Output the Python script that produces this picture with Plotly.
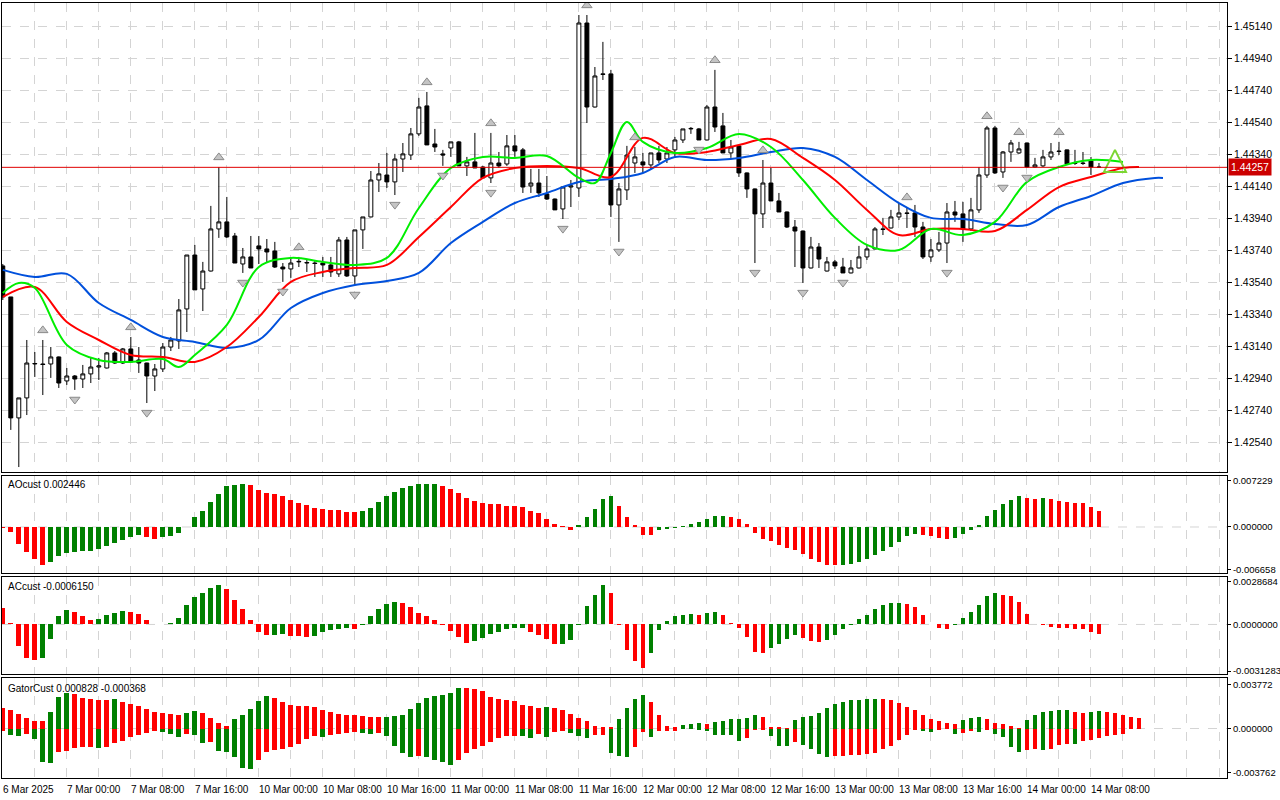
import plotly.graph_objects as go

# ---------------- data ----------------
TICK_LABELS = ["6 Mar 2025", "7 Mar 00:00", "7 Mar 08:00", "7 Mar 16:00", "10 Mar 00:00", "10 Mar 08:00",
               "10 Mar 16:00", "11 Mar 00:00", "11 Mar 08:00", "11 Mar 16:00", "12 Mar 00:00", "12 Mar 08:00",
               "12 Mar 16:00", "13 Mar 00:00", "13 Mar 08:00", "13 Mar 16:00", "14 Mar 00:00", "14 Mar 08:00"]

OPEN = [1.43641,1.43447,1.42691,1.42816,1.43028,1.43028,1.43028,1.43072,1.42922,1.42953,
        1.42934,1.42966,1.43009,1.43003,1.43097,1.43034,1.43122,1.43053,1.43034,1.42953,
        1.42997,1.43134,1.43172,1.43372,1.43709,1.43497,1.43609,1.43872,1.43916,1.43828,
        1.43653,1.43697,1.43766,1.43747,1.43734,1.43634,1.43622,1.43666,1.43659,1.43659,
        1.43659,1.43647,1.43591,1.43803,1.43578,1.43866,1.43947,1.44178,1.44209,1.44166,
        1.44309,1.44334,1.44466,1.44641,1.44403,1.44341,1.44378,1.44416,1.44266,1.44291,
        1.44259,1.44191,1.44284,1.44278,1.44391,1.44366,1.44141,1.44159,1.44091,1.44059,
        1.43997,1.44134,1.44128,1.45159,1.44634,1.44841,1.44841,1.44022,1.44116,1.44284,
        1.44291,1.44272,1.44347,1.44309,1.44366,1.44428,1.44497,1.44497,1.44428,1.44634,
        1.44516,1.44347,1.44391,1.44222,1.44122,1.43966,1.44159,1.44047,1.43978,1.43884,
        1.43859,1.43628,1.43759,1.43609,1.43666,1.43634,1.43597,1.43628,1.43697,1.43747,
        1.43872,1.43878,1.43947,1.43972,1.43972,1.43884,1.43697,1.43741,1.43784,1.43978,
        1.43966,1.43872,1.43991,1.44209,1.44503,1.44228,1.44353,1.44347,1.44409,1.44259,
        1.44266,1.44322,1.44359,1.44366,1.44284,1.44284,1.44297,1.44259]
HIGH = [1.43653,1.43447,1.42816,1.43178,1.43103,1.43178,1.43134,1.43075,1.43003,1.42959,
        1.43022,1.43066,1.43066,1.43103,1.43109,1.43128,1.43197,1.43134,1.43036,1.43028,
        1.43159,1.43197,1.43434,1.43709,1.43772,1.43666,1.44016,1.44259,1.44072,1.43847,
        1.43753,1.43828,1.43828,1.43809,1.43791,1.43659,1.43691,1.43697,1.43684,1.43678,
        1.43697,1.43697,1.43822,1.43822,1.43866,1.43947,1.44234,1.44284,1.44347,1.44341,
        1.44409,1.44503,1.44691,1.44728,1.44497,1.44366,1.44416,1.44422,1.44322,1.44472,
        1.44266,1.44472,1.44353,1.44459,1.44459,1.44378,1.44247,1.44247,1.44203,1.44062,
        1.44134,1.44178,1.45209,1.45209,1.44884,1.45041,1.44866,1.44159,1.44391,1.44384,
        1.44347,1.44347,1.44391,1.44384,1.44447,1.44497,1.44509,1.44503,1.44647,1.44866,
        1.44597,1.44428,1.44394,1.44225,1.44125,1.44303,1.44253,1.44097,1.43981,1.43928,
        1.43862,1.43822,1.43784,1.43697,1.43678,1.43691,1.43678,1.43766,1.43772,1.43884,
        1.43941,1.43991,1.44034,1.44009,1.44022,1.43916,1.43809,1.43853,1.44034,1.44047,
        1.44041,1.44066,1.44259,1.44516,1.44516,1.44359,1.44428,1.44416,1.44412,1.44316,
        1.44366,1.44409,1.44416,1.44369,1.44366,1.44353,1.44322,1.44284]
LOW = [1.43428,1.42616,1.42384,1.42709,1.42947,1.42834,1.42941,1.42878,1.42897,1.42866,
       1.42878,1.42909,1.42928,1.43000,1.43028,1.43028,1.43041,1.42972,1.42784,1.42859,
       1.42978,1.43109,1.43122,1.43228,1.43491,1.43359,1.43606,1.43816,1.43816,1.43659,
       1.43597,1.43628,1.43653,1.43659,1.43628,1.43541,1.43566,1.43634,1.43603,1.43572,
       1.43572,1.43572,1.43572,1.43572,1.43522,1.43747,1.43944,1.44103,1.44128,1.44084,
       1.44228,1.44303,1.44453,1.44397,1.44353,1.44266,1.44322,1.44266,1.44203,1.44253,
       1.44191,1.44159,1.44253,1.44266,1.44322,1.44097,1.44097,1.44072,1.44053,1.43991,
       1.43934,1.44009,1.44072,1.44534,1.44631,1.44803,1.43947,1.43791,1.44053,1.44222,
       1.44222,1.44241,1.44284,1.44284,1.44316,1.44409,1.44466,1.44428,1.44425,1.44478,
       1.44347,1.44316,1.44197,1.44066,1.43659,1.43878,1.44047,1.43978,1.43878,1.43634,
       1.43534,1.43625,1.43628,1.43606,1.43622,1.43597,1.43594,1.43625,1.43678,1.43744,
       1.43834,1.43875,1.43928,1.43878,1.43822,1.43684,1.43666,1.43728,1.43659,1.43916,
       1.43791,1.43859,1.43972,1.44191,1.44216,1.44191,1.44291,1.44341,1.44253,1.44253,
       1.44259,1.44303,1.44334,1.44278,1.44272,1.44272,1.44209,1.44253]
CLOSE = [1.43447,1.42691,1.42816,1.43034,1.43031,1.43025,1.43072,1.42909,1.42953,1.42934,
         1.42966,1.43009,1.43016,1.43097,1.43034,1.43122,1.43041,1.43034,1.42953,1.42997,
         1.43134,1.43178,1.43366,1.43709,1.43491,1.43609,1.43872,1.43916,1.43822,1.43659,
         1.43697,1.43628,1.43747,1.43728,1.43634,1.43622,1.43659,1.43669,1.43662,1.43656,
         1.43647,1.43603,1.43803,1.43578,1.43866,1.43947,1.44178,1.44216,1.44166,1.44309,
         1.44341,1.44466,1.44634,1.44397,1.44384,1.44334,1.44416,1.44266,1.44291,1.44253,
         1.44191,1.44284,1.44266,1.44391,1.44359,1.44134,1.44159,1.44097,1.44059,1.43991,
         1.44134,1.44141,1.45159,1.44634,1.44828,1.44838,1.44022,1.44122,1.44334,1.44322,
         1.44272,1.44347,1.44303,1.44347,1.44428,1.44497,1.44500,1.44428,1.44634,1.44509,
         1.44347,1.44384,1.44222,1.44122,1.43966,1.44159,1.44047,1.43978,1.43884,1.43859,
         1.43628,1.43759,1.43684,1.43666,1.43641,1.43597,1.43628,1.43697,1.43747,1.43872,
         1.43869,1.43947,1.43972,1.43969,1.43884,1.43697,1.43741,1.43784,1.43978,1.43959,
         1.43872,1.43991,1.44209,1.44503,1.44222,1.44353,1.44409,1.44372,1.44259,1.44272,
         1.44322,1.44353,1.44356,1.44278,1.44281,1.44281,1.44259,1.44257]
LAST_PRICE = 1.44257

JAW_IDX = list(range(0, 145, 4)) + [145]
JAW = [1.43616,1.43572,1.43591,1.43409,1.43303,1.43197,1.43166,1.43128,1.43178,1.43378,
       1.43472,1.43522,1.43547,1.43597,1.43784,1.43916,1.44034,1.44097,1.44166,1.44184,
       1.44222,1.44322,1.44303,1.44316,1.44353,1.44378,1.44322,1.44178,1.44034,1.43941,
       1.43934,1.43903,1.43897,1.44009,1.44078,1.44159,1.44191,1.44191]
TEETH_IDX = list(range(0, 141, 4)) + [142]
TEETH = [1.43447,1.43509,1.43291,1.43178,1.43084,1.43072,1.43041,1.43134,1.43322,1.43541,
         1.43603,1.43628,1.43647,1.43822,1.44009,1.44191,1.44253,1.44266,1.44253,1.44197,
         1.44441,1.44347,1.44353,1.44397,1.44434,1.44316,1.44178,1.43991,1.43834,1.43872,
         1.43872,1.43859,1.43991,1.44134,1.44197,1.44253,1.44259]
LIPS_IDX = [0,2,4,8,12,16,20,22,24,28,32,36,40,44,48,52,56,60,64,68,72,74,76,78,80,84,88,92,96,
            100,104,108,112,116,120,124,128,132,136,140]
LIPS = [1.43472,1.43534,1.43503,1.43147,1.43053,1.43041,1.43059,1.43009,1.43084,1.43272,
        1.43634,1.43691,1.43666,1.43647,1.43691,1.44003,1.44253,1.44322,1.44316,1.44328,
        1.44191,1.44159,1.44347,1.44541,1.44416,1.44347,1.44378,1.44466,1.44384,1.44178,
        1.43941,1.43772,1.43741,1.43872,1.43834,1.43916,1.44166,1.44259,1.44303,1.44291]

UP_FRACTALS = [5,16,27,37,53,61,73,79,89,95,113,123,127,132]
DOWN_FRACTALS = [9,18,30,35,44,49,55,61,70,77,87,94,100,105,118,125,128]
SIGNAL_IDX = [139]
SIGNAL_PRICE = [1.44366]

AO = [-157,-835,-2610,-3967,-4959,-5899,-5533,-4489,-4019,-3863,-3811,-3706,-3393,-2923,-2506,-1984,
      -1618,-1305,-1566,-1827,-1618,-1462,-992,-52,1514,2453,3863,5220,6473,6577,6786,6525,5846,5377,
      5220,4802,4280,3811,3393,3028,2871,2714,2610,2401,2297,2506,3028,3863,4802,5533,6160,6473,6682,
      6786,6800,6473,6003,5324,4541,4124,3811,3654,3550,3341,3236,3080,2558,2140,1305,522,104,-418,365,
      1618,2871,4385,4907,3341,1618,313,-1201,-1305,-522,-365,-209,104,470,783,1305,1775,1790,1566,1253,
      522,-940,-1827,-2245,-2871,-3341,-3550,-4176,-4959,-5533,-5899,-6003,-5990,-5794,-5429,-5011,-4333,
      -3706,-3132,-2297,-1462,-1096,-1253,-1462,-1670,-1827,-1670,-1044,-418,365,1670,2610,3550,4280,
      4907,4541,4385,4489,4385,4124,3967,3811,3706,3100,2446]  # x 1e-6
AC = [1120,112,-1456,-2285,-2397,-2240,-1008,560,941,851,560,291,336,605,784,874,829,672,291,0,45,67,
      448,1277,1837,2083,2419,2621,2352,1613,1008,269,-515,-739,-717,-672,-784,-806,-829,-784,-515,-381,
      -336,-246,-336,-22,560,1008,1389,1523,1456,1142,739,560,291,-67,-448,-851,-1277,-1120,-941,-672,
      -515,-291,-269,-224,-515,-739,-1008,-1344,-1299,-1053,-22,1232,1949,2621,2083,-45,-1747,-2464,
      -2912,-1949,-381,224,560,650,672,627,739,851,605,112,-224,-851,-1859,-1904,-1613,-1344,-1008,-739,
      -896,-1120,-1187,-1053,-739,-336,-45,336,650,1053,1277,1411,1434,1389,1165,605,45,-246,-336,-67,
      403,851,1277,1904,2083,1949,1904,1501,672,45,-22,-157,-224,-246,-291,-336,-515,-615]  # x 1e-6
GATOR_UP = [1773,1573,1201,887,629,601,1401,2660,3003,2974,2631,2488,2431,2402,2488,2259,2059,1916,1687,
            1401,1344,1201,1115,1287,1487,1344,915,486,200,772,1115,1687,2345,2774,2631,2259,1973,1945,
            1916,1802,1573,1401,1201,1173,1115,1058,1001,944,972,1058,1115,1687,2145,2603,2774,2831,3060,
            3489,3432,3346,3175,2717,2488,2460,2317,2002,1916,1773,1802,1745,1573,1201,915,629,257,143,114,
            772,1773,2488,2831,2259,1115,257,143,343,429,486,429,543,629,772,801,915,1115,1001,143,114,57,
            715,944,1058,1344,1773,2059,2259,2431,2460,2488,2517,2488,2402,2202,1830,1544,1115,772,629,486,
            429,715,915,944,829,486,400,257,29,715,1144,1430,1459,1573,1602,1401,1344,1401,1459,1401,1287,
            1144,1001,915]  # x 1e-6
GATOR_DN = [229,572,658,429,887,2889,2917,2031,1888,1687,1602,1573,1687,1602,1230,1030,744,572,372,229,
            257,429,744,429,572,1230,1173,1945,1973,2460,3375,3461,2660,2031,1859,1716,1573,1344,887,658,
            686,515,458,372,315,372,429,372,658,1459,2088,2431,2374,2431,2660,2889,3089,2660,2088,1745,
            1516,1173,801,658,601,658,801,429,715,315,229,372,658,801,572,543,2088,2317,2460,1573,
            315,744,229,200,172,29,57,86,229,515,543,572,1087,801,143,114,658,1459,1516,1173,1373,1745,
            2145,2431,2374,2317,2288,2259,2145,2088,1745,1459,1001,515,143,172,315,86,29,429,372,229,286,
            86,429,744,1602,2031,1859,1745,1859,1745,1401,1287,1316,1087,944,829,658,572,429]  # abs, x 1e-6

# ---------------- figure ----------------
GREEN_BAR = "#008000"
RED_BAR = "#FF0000"
GRID = "#D4D4D4"
FONT = dict(family="Liberation Sans", size=10.5, color="black")
SUBFONT = dict(family="Liberation Sans", size=9.5, color="black")

def up_down_colors(vals):
    cols = []
    prev = None
    for v in vals:
        if prev is None:
            cols.append(RED_BAR)
        else:
            cols.append(GREEN_BAR if v > prev else (RED_BAR if v < prev else cols[-1]))
        prev = v
    return cols

n = len(CLOSE)
idx = list(range(n))
fig = go.Figure()

fig.add_trace(go.Candlestick(
    x=idx, open=OPEN, high=HIGH, low=LOW, close=CLOSE, xaxis="x", yaxis="y",
    increasing=dict(line=dict(color="black", width=1), fillcolor="white"),
    decreasing=dict(line=dict(color="black", width=1), fillcolor="black"),
    whiskerwidth=0, hoverinfo="skip"))

fig.add_trace(go.Scatter(x=JAW_IDX, y=JAW, mode="lines", line=dict(color="#0050DC", width=2, shape="spline"),
                         xaxis="x", yaxis="y"))
fig.add_trace(go.Scatter(x=TEETH_IDX, y=TEETH, mode="lines", line=dict(color="#FF0000", width=2, shape="spline"),
                         xaxis="x", yaxis="y"))
fig.add_trace(go.Scatter(x=LIPS_IDX, y=LIPS, mode="lines", line=dict(color="#00EE00", width=2, shape="spline"),
                         xaxis="x", yaxis="y"))

fig.add_trace(go.Scatter(x=UP_FRACTALS, y=[HIGH[i] + 0.0006 for i in UP_FRACTALS], mode="markers",
                         marker=dict(symbol="triangle-up", size=9, color="#C4C4C4", line=dict(color="#8A8A8A", width=1)),
                         xaxis="x", yaxis="y"))
fig.add_trace(go.Scatter(x=DOWN_FRACTALS, y=[LOW[i] - 0.0006 for i in DOWN_FRACTALS], mode="markers",
                         marker=dict(symbol="triangle-down", size=9, color="#C4C4C4", line=dict(color="#8A8A8A", width=1)),
                         xaxis="x", yaxis="y"))
fig.add_trace(go.Scatter(x=SIGNAL_IDX, y=SIGNAL_PRICE, mode="markers",
                         marker=dict(symbol="arrow-up-open", size=22, color="#7CD632", line=dict(color="#7CD632", width=2)),
                         xaxis="x", yaxis="y"))

ao = [v * 1e-6 for v in AO]
fig.add_trace(go.Bar(x=idx, y=ao, marker=dict(color=up_down_colors(ao), line=dict(width=0)), width=0.6,
                     xaxis="x2", yaxis="y2"))
ac = [v * 1e-6 for v in AC]
fig.add_trace(go.Bar(x=idx, y=ac, marker=dict(color=up_down_colors(ac), line=dict(width=0)), width=0.6,
                     xaxis="x3", yaxis="y3"))
gu = [v * 1e-6 for v in GATOR_UP]
gd = [v * 1e-6 for v in GATOR_DN]
fig.add_trace(go.Bar(x=list(range(len(gu))), y=gu, marker=dict(color=up_down_colors(gu), line=dict(width=0)),
                     width=0.6, xaxis="x4", yaxis="y4"))
fig.add_trace(go.Bar(x=list(range(len(gd))), y=[-v for v in gd], marker=dict(color=up_down_colors(gd), line=dict(width=0)),
                     width=0.6, xaxis="x4", yaxis="y4"))

XR = [-0.1, 153.0]
domains = {"": [0.41, 0.99625], "2": [0.28375, 0.405], "3": [0.1575, 0.27875], "4": [0.0275, 0.1525]}
for k, dom in domains.items():
    fig.layout["xaxis" + k] = dict(range=XR, domain=[0, 1], anchor="y" + k, tickvals=list(range(0, 154, 4)),
                                   showticklabels=False, ticks="", showgrid=True, gridcolor=GRID, griddash="dash",
                                   gridwidth=1, showline=True, mirror=True, linecolor="black", linewidth=1,
                                   zeroline=False, rangeslider=dict(visible=False), fixedrange=True)

def axis_common(font, ticklen):
    return dict(side="right", showline=True, mirror=True, linecolor="black", linewidth=1, ticks="outside",
                ticklen=ticklen, tickcolor="black", tickfont=font, zeroline=False, fixedrange=True)

fig.layout["yaxis"] = dict(domain=domains[""], anchor="x", range=[1.42353, 1.45284],
                           tickvals=[1.42540 + 0.002 * k for k in range(14)], tickformat=".5f",
                           showgrid=True, gridcolor=GRID, griddash="dash", **axis_common(FONT, 4))
fig.layout["yaxis2"] = dict(domain=domains["2"], anchor="x2", range=[-0.0072, 0.00798],
                            tickvals=[0.007229, 0, -0.006658], ticktext=["0.007229", "0.000000", "-0.006658"],
                            showgrid=False, **axis_common(SUBFONT, 3))
fig.layout["yaxis3"] = dict(domain=domains["3"], anchor="x3", range=[-0.00333, 0.00319],
                            tickvals=[0.0028684, 0, -0.0031283], ticktext=["0.0028684", "0.0000000", "-0.0031283"],
                            showgrid=False, **axis_common(SUBFONT, 3))
fig.layout["yaxis4"] = dict(domain=domains["4"], anchor="x4", range=[-0.004242, 0.004328],
                            tickvals=[0.003772, 0, -0.003762], ticktext=["0.003772", "0.000000", "-0.003762"],
                            showgrid=False, **axis_common(SUBFONT, 3))

shapes = [dict(type="line", xref="x domain", yref="y", x0=0, x1=1, y0=LAST_PRICE, y1=LAST_PRICE,
               line=dict(color="#E00000", width=1), layer="above")]
for k in ["2", "3", "4"]:
    shapes.append(dict(type="line", xref="x%s domain" % k, yref="y" + k, x0=0, x1=1, y0=0, y1=0,
                       line=dict(color=GRID, width=1, dash="dash"), layer="below"))
fig.update_layout(shapes=shapes)

SMALL = dict(family="Liberation Sans", size=10, color="black")
ann = [dict(xref="paper", yref="y", x=1.0, y=LAST_PRICE, xanchor="left", yanchor="middle", text="1.44257",
            showarrow=False, bgcolor="#CC0000", font=dict(family="Liberation Sans", size=10.5, color="white"),
            borderpad=2, xshift=1),
       dict(xref="paper", yref="paper", x=0.003, y=1 - 484 / 800, xanchor="left", yanchor="middle",
            text="AOcust 0.002446", showarrow=False, font=SMALL),
       dict(xref="paper", yref="paper", x=0.003, y=1 - 586 / 800, xanchor="left", yanchor="middle",
            text="ACcust -0.0006150", showarrow=False, font=SMALL),
       dict(xref="paper", yref="paper", x=0.003, y=1 - 688 / 800, xanchor="left", yanchor="middle",
            text="GatorCust 0.000828 -0.000368", showarrow=False, font=SMALL)]
for j, lab in enumerate(TICK_LABELS):
    ann.append(dict(xref="x4", yref="paper", x=j * 8, y=1 - 789 / 800, xanchor="left", yanchor="middle",
                    text=lab, showarrow=False, font=SMALL, xshift=-2))
fig.update_layout(annotations=ann)

fig.update_layout(width=1280, height=800, margin=dict(l=2, r=53, t=0, b=0, autoexpand=False),
                  paper_bgcolor="white", plot_bgcolor="white", showlegend=False, bargap=0,
                  barmode="overlay", hovermode=False)
fig.write_html("out.html", config={"displayModeBar": False, "staticPlot": True})

# remove the browser's default page margin so the figure sits at the window origin
with open("out.html", "r", encoding="utf-8") as f:
    html = f.read()
html = html.replace("<head>", "<head><style>html,body{margin:0;padding:0;overflow:hidden;}</style>", 1)
with open("out.html", "w", encoding="utf-8") as f:
    f.write(html)
